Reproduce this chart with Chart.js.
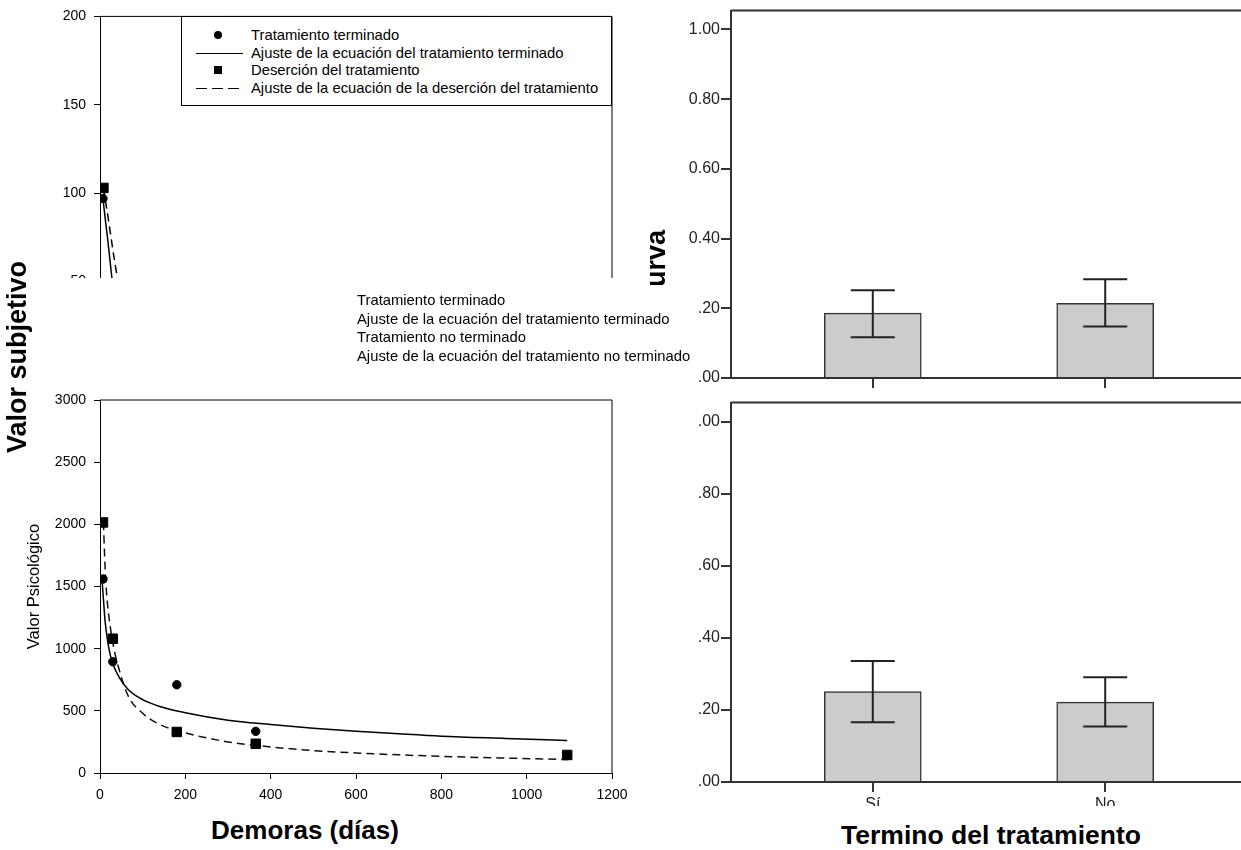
<!DOCTYPE html>
<html>
<head>
<meta charset="utf-8">
<script src="https://cdn.jsdelivr.net/npm/chart.js@4.4.0/dist/chart.umd.min.js"></script>
<style>
  body { margin: 0; width: 1241px; height: 850px; background: #fff; position: relative; overflow: hidden;
         font-family: "Liberation Sans", Arial, sans-serif; color: #000; }
  .panel { position: absolute; overflow: hidden; }
  .panel canvas { position: absolute; left: 0; top: 0; }
  .label { position: absolute; white-space: nowrap; }
  .bold { font-weight: bold; font-size: 26px; }
  .rot { position: absolute; transform: rotate(-90deg); transform-origin: left top; white-space: nowrap;
         height: 30px; line-height: 30px; font-weight: bold; font-size: 27px; }
  #legendTop { position: absolute; left: 181px; top: 16px; width: 429px; height: 88px; border: 1px solid #000;
               background: #fff; font-size: 14.8px; }
  #legendTop .row { position: absolute; left: 0; height: 18px; line-height: 18px; width: 100%; }
  #legendTop .txt { position: absolute; left: 69px; top: 0; white-space: nowrap; }
  .mk { position: absolute; }
  #legendMid { position: absolute; left: 357px; top: 291px; font-size: 14.8px; line-height: 18.5px; white-space: nowrap; }
</style>
</head>
<body>

<div class="panel" style="left:0;top:0;width:640px;height:278px;"><canvas id="cTop" width="640" height="400"></canvas></div>
<div class="panel" style="left:0;top:380px;width:640px;height:430px;"><canvas id="cPsy" width="640" height="430"></canvas></div>
<div class="panel" style="left:640px;top:0;width:601px;height:392px;"><canvas id="cAreaTop" width="620" height="420"></canvas></div>
<div class="panel" style="left:640px;top:392px;width:601px;height:414px;"><canvas id="cAreaBottom" width="620" height="450"></canvas></div>

<div id="legendTop"></div>
<div id="legendMid"></div>

<div class="rot" style="left:2px;top:557px;width:400px;text-align:center;">Valor subjetivo</div>
<div class="panel" style="left:640px;top:220px;width:32px;height:65px;">
  <div class="rot" style="left:1px;top:310px;width:300px;text-align:right;">Área bajo la curva</div>
</div>
<div class="label bold" style="left:305px;top:830px;transform:translate(-50%,-50%);">Demoras (días)</div>
<div class="label bold" style="left:991px;top:835px;transform:translate(-50%,-50%);font-size:26.5px;">Termino del tratamiento</div>

<script>
Chart.defaults.font.family = "'Liberation Sans', Arial, sans-serif";
Chart.defaults.color = '#000';

// ---- top-left panel (valor subjetivo) ----
const legendTop = ['Tratamiento terminado', 'Ajuste de la ecuación del tratamiento terminado',
                   'Deserción del tratamiento', 'Ajuste de la ecuación de la deserción del tratamiento'];
const subjTicks = [0, 50, 100, 150, 200];
const subjDoneDays = [7];
const subjDoneVals = [97];
const subjDropDays = [8];
const subjDropVals = [103];
const subjFitDoneDays = [7, 12, 18, 23, 28, 34];
const subjFitDoneVals = [97, 86, 74, 63, 52, 43];
const subjFitDropDays = [8, 16, 24, 32, 41, 48];
const subjFitDropVals = [103, 91, 78, 65, 52, 44];

// ---- bottom-left panel (valor psicologico) ----
const legendMid = ['Tratamiento terminado', 'Ajuste de la ecuación del tratamiento terminado',
                   'Tratamiento no terminado', 'Ajuste de la ecuación del tratamiento no terminado'];
const psyTicks = [0, 500, 1000, 1500, 2000, 2500, 3000];
const dayTicks = [0, 200, 400, 600, 800, 1000, 1200];
const doneDays = [7, 30, 180, 365, 1095];
const doneVals = [1560, 895, 710, 335, 140];
const dropDays = [7, 30, 180, 365, 1095];
const dropVals = [2015, 1080, 330, 235, 145];
const fitDoneDays = [5, 8, 12, 18, 24, 32, 45, 66, 100, 140, 200, 300, 400, 500, 600, 700, 800, 950, 1095];
const fitDoneVals = [1545, 1400, 1220, 1060, 950, 860, 770, 672, 590, 535, 485, 425, 390, 360, 336, 315, 296, 278, 262];
const fitDropDays = [8, 12, 16, 24, 32, 45, 66, 100, 140, 200, 300, 400, 500, 600, 700, 800, 950, 1095];
const fitDropVals = [2015, 1650, 1420, 1180, 1010, 830, 620, 480, 390, 323, 250, 210, 180, 161, 146, 134, 120, 108];

// ---- right panels (area bajo la curva) ----
const categories = ['Sí', 'No'];
const areaTicks = [0, 0.2, 0.4, 0.6, 0.8, 1.0];
const areaTopLabels = ['.00', '.20', '0.40', '0.60', '0.80', '1.00'];
const areaBottomLabels = ['.00', '.20', '.40', '.60', '.80', '.00'];
const areaTop = [0.186, 0.214];
const areaTopLow = [0.117, 0.148];
const areaTopHigh = [0.252, 0.283];
const areaBottom = [0.251, 0.222];
const areaBottomLow = [0.166, 0.154];
const areaBottomHigh = [0.336, 0.291];

const pts = (xs, ys) => xs.map((x, i) => ({ x: x, y: ys[i] }));

// top + right border of the plot box
const frame = {
  id: 'frame',
  afterDraw(chart, args, opts) {
    const { ctx, chartArea: a } = chart;
    ctx.save();
    ctx.strokeStyle = opts.color;
    ctx.lineWidth = opts.width;
    ctx.beginPath();
    ctx.moveTo(a.left, a.top);
    ctx.lineTo(a.right, a.top);
    ctx.lineTo(a.right, a.bottom);
    ctx.stroke();
    ctx.restore();
  }
};

// whiskers on the bars
const errorBars = {
  id: 'errorBars',
  afterDatasetsDraw(chart, args, opts) {
    const { ctx } = chart;
    const y = chart.scales.y;
    const meta = chart.getDatasetMeta(0);
    ctx.save();
    ctx.strokeStyle = '#222';
    ctx.lineWidth = 2;
    meta.data.forEach((bar, i) => {
      const hi = y.getPixelForValue(opts.high[i]);
      const lo = y.getPixelForValue(opts.low[i]);
      ctx.beginPath();
      ctx.moveTo(bar.x, hi); ctx.lineTo(bar.x, lo);
      ctx.moveTo(bar.x - opts.cap, hi); ctx.lineTo(bar.x + opts.cap, hi);
      ctx.moveTo(bar.x - opts.cap, lo); ctx.lineTo(bar.x + opts.cap, lo);
      ctx.stroke();
    });
    ctx.restore();
  }
};

function leftAxis(ticks, min, max) {
  return {
    min: min, max: max,
    afterBuildTicks: s => { s.ticks = ticks.map(v => ({ value: v })); },
    ticks: { font: { size: 14 }, padding: 8, color: '#000', callback: v => String(v) },
    grid: { drawOnChartArea: false, tickLength: 6, color: '#000' },
    border: { color: '#000' },
    afterFit: s => { s.width = 100; }
  };
}

new Chart(document.getElementById('cTop'), {
  type: 'scatter',
  data: {
    datasets: [
      { label: legendTop[2], data: pts(subjDropDays, subjDropVals), pointStyle: 'rect', pointRadius: 6.7,
        backgroundColor: '#000', borderColor: '#000' },
      { label: legendTop[0], data: pts(subjDoneDays, subjDoneVals), pointStyle: 'circle', pointRadius: 4.2,
        backgroundColor: '#000', borderColor: '#000' },
      { label: legendTop[1], data: pts(subjFitDoneDays, subjFitDoneVals), showLine: true, pointRadius: 0,
        borderColor: '#000', borderWidth: 1.5, cubicInterpolationMode: 'monotone' },
      { label: legendTop[3], data: pts(subjFitDropDays, subjFitDropVals), showLine: true, pointRadius: 0,
        borderColor: '#000', borderWidth: 1.5, borderDash: [8, 5], cubicInterpolationMode: 'monotone' }
    ]
  },
  options: {
    responsive: false, animation: false,
    layout: { padding: { left: 0, top: 16, right: 28, bottom: 30 } },
    plugins: { legend: { display: false }, tooltip: { enabled: false }, frame: { color: '#000', width: 1 } },
    scales: {
      x: { display: false, min: 0, max: 1200 },
      y: leftAxis(subjTicks, 0, 200)
    }
  },
  plugins: [frame]
});

const psyY = leftAxis(psyTicks, 0, 3000);
psyY.title = { display: true, text: 'Valor Psicológico', font: { size: 16.5 }, color: '#000', padding: { top: 25, bottom: 0 } };

new Chart(document.getElementById('cPsy'), {
  type: 'scatter',
  data: {
    datasets: [
      { label: legendMid[2], data: pts(dropDays, dropVals), pointStyle: 'rect', pointRadius: 6.7,
        backgroundColor: '#000', borderColor: '#000' },
      { label: legendMid[0], data: pts(doneDays, doneVals), pointStyle: 'circle', pointRadius: 4.2,
        backgroundColor: '#000', borderColor: '#000' },
      { label: legendMid[1], data: pts(fitDoneDays, fitDoneVals), showLine: true, pointRadius: 0,
        borderColor: '#000', borderWidth: 1.5, cubicInterpolationMode: 'monotone' },
      { label: legendMid[3], data: pts(fitDropDays, fitDropVals), showLine: true, pointRadius: 0,
        borderColor: '#111', borderWidth: 1.5, borderDash: [8, 5], cubicInterpolationMode: 'monotone' }
    ]
  },
  options: {
    responsive: false, animation: false,
    layout: { padding: { left: 0, top: 20, right: 28, bottom: 0 } },
    plugins: { legend: { display: false }, tooltip: { enabled: false }, frame: { color: '#000', width: 1 } },
    scales: {
      x: {
        min: 0, max: 1200,
        afterBuildTicks: s => { s.ticks = dayTicks.map(v => ({ value: v })); },
        ticks: { font: { size: 14 }, padding: 8, color: '#000', maxRotation: 0, callback: v => String(v) },
        grid: { drawOnChartArea: false, tickLength: 6, color: '#000' },
        border: { color: '#000' },
        afterFit: s => { s.height = 37; }
      },
      y: psyY
    }
  },
  plugins: [frame]
});

function barChart(id, vals, low, high, labels, topPad, xHeight) {
  new Chart(document.getElementById(id), {
    type: 'bar',
    data: {
      datasets: [{
        data: vals.map((v, i) => ({ x: i + 1, y: v })),
        backgroundColor: '#cccccc', borderColor: '#333', borderWidth: 1.5,
        borderSkipped: 'bottom', barThickness: 97
      }]
    },
    options: {
      responsive: false, animation: false,
      layout: { padding: { left: 0, top: topPad, right: 13, bottom: 0 } },
      plugins: {
        legend: { display: false }, tooltip: { enabled: false },
        frame: { color: '#333', width: 2 },
        errorBars: { low: low, high: high, cap: 22 }
      },
      scales: {
        x: {
          type: 'linear', min: 0.39, max: 2.61, offset: false,
          afterBuildTicks: s => { s.ticks = categories.map((c, i) => ({ value: i + 1 })); },
          ticks: { callback: (v, i) => categories[i], font: { size: 16 }, color: '#222', padding: 3, maxRotation: 0, autoSkip: false },
          grid: { drawOnChartArea: false, offset: false, tickLength: 10, color: '#333', lineWidth: 2 },
          border: { color: '#333', width: 2 },
          afterFit: s => { s.height = xHeight; }
        },
        y: {
          min: 0, max: 1.054,
          afterBuildTicks: s => { s.ticks = areaTicks.map(v => ({ value: v })); },
          ticks: { callback: (v, i) => labels[i], font: { size: 16 }, color: '#222', padding: 1 },
          grid: { drawOnChartArea: false, tickLength: 10, color: '#333', lineWidth: 2 },
          border: { color: '#333', width: 2 },
          afterFit: s => { s.width = 91; }
        }
      }
    },
    plugins: [frame, errorBars]
  });
}

barChart('cAreaTop', areaTop, areaTopLow, areaTopHigh, areaTopLabels, 9, 42);
barChart('cAreaBottom', areaBottom, areaBottomLow, areaBottomHigh, areaBottomLabels, 5, 60);

// legend box of the top-left panel
const markers = [
  '<div class="mk" style="left:32px;top:5px;width:8px;height:8px;border-radius:50%;background:#000;"></div>',
  '<div class="mk" style="left:14px;top:8.5px;width:47px;height:1.5px;background:#000;"></div>',
  '<div class="mk" style="left:32px;top:5px;width:8px;height:8px;background:#000;"></div>',
  '<div class="mk" style="left:14px;top:8.5px;width:47px;height:1.5px;background:repeating-linear-gradient(90deg,#000 0 11px,transparent 11px 16px);"></div>'
];
const rowTops = [9, 27, 44, 62];
document.getElementById('legendTop').innerHTML = legendTop.map((t, i) =>
  '<div class="row" style="top:' + rowTops[i] + 'px;">' + markers[i] + '<span class="txt">' + t + '</span></div>'
).join('');

// floating legend text between the left panels
document.getElementById('legendMid').innerHTML = legendMid.join('<br>');
</script>
</body>
</html>
